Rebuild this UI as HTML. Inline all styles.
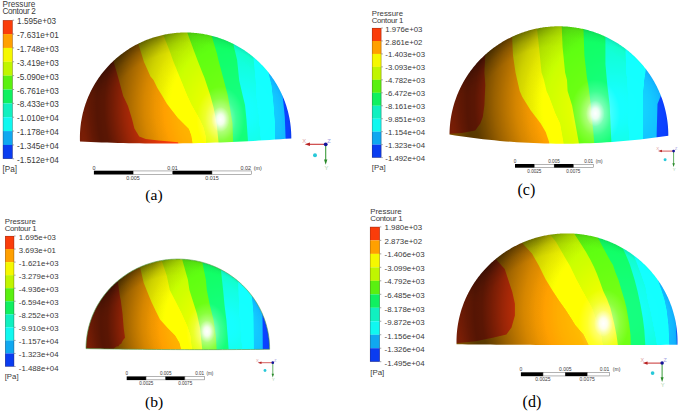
<!DOCTYPE html>
<html><head><meta charset="utf-8"><style>
html,body{margin:0;padding:0;background:#fff;}
svg{display:block;}
.lt{font-family:"Liberation Sans",sans-serif;font-size:8px;fill:#3a3a3a;}
.st{font-family:"Liberation Sans",sans-serif;font-size:5.5px;fill:#3a3a3a;}
.ax{font-family:"Liberation Sans",sans-serif;font-size:5px;}
.pl{font-family:"Liberation Serif",serif;font-size:15.5px;fill:#000;}
</style></head><body>
<svg width="685" height="411" viewBox="0 0 685 411">
<defs>
<mask id="cla" maskUnits="userSpaceOnUse" x="0" y="0" width="685" height="411"><path d="M291.30,138.36 L291.30,137.36 L291.29,136.37 L291.27,135.37 L291.24,134.38 L291.20,133.39 L291.16,132.40 L291.10,131.40 L291.03,130.41 L290.96,129.42 L290.87,128.43 L290.78,127.44 L290.67,126.45 L290.56,125.47 L290.44,124.48 L290.31,123.50 L290.17,122.51 L290.02,121.53 L289.86,120.55 L289.69,119.57 L289.51,118.59 L289.32,117.62 L289.13,116.64 L288.92,115.67 L288.71,114.70 L288.48,113.73 L288.25,112.77 L288.01,111.80 L287.76,110.84 L287.50,109.88 L287.23,108.92 L286.95,107.97 L286.66,107.02 L286.37,106.07 L286.06,105.12 L285.75,104.18 L285.42,103.24 L285.09,102.31 L284.75,101.37 L284.40,100.44 L284.04,99.51 L283.67,98.59 L283.30,97.67 L282.91,96.75 L282.52,95.84 L282.12,94.93 L281.71,94.03 L281.29,93.12 L280.86,92.23 L280.42,91.33 L279.98,90.44 L279.53,89.56 L279.07,88.68 L278.60,87.80 L278.12,86.93 L277.63,86.06 L277.14,85.20 L276.64,84.34 L276.13,83.49 L275.61,82.64 L275.08,81.80 L274.55,80.96 L274.00,80.12 L273.45,79.30 L272.90,78.47 L272.33,77.65 L271.76,76.84 L271.18,76.03 L270.59,75.23 L269.99,74.44 L269.39,73.65 L268.78,72.86 L268.16,72.08 L267.53,71.31 L266.90,70.54 L266.26,69.78 L265.61,69.03 L264.96,68.28 L264.29,67.53 L263.63,66.80 L262.95,66.07 L262.27,65.34 L261.58,64.63 L260.88,63.91 L260.18,63.21 L259.47,62.51 L258.75,61.82 L258.03,61.14 L257.30,60.46 L256.57,59.79 L255.83,59.13 L255.08,58.47 L254.32,57.82 L253.56,57.18 L252.80,56.54 L252.03,55.91 L251.25,55.29 L250.46,54.68 L249.67,54.07 L248.88,53.47 L248.08,52.88 L247.27,52.30 L246.46,51.72 L245.64,51.16 L244.82,50.60 L243.99,50.04 L243.16,49.50 L242.32,48.96 L241.48,48.43 L240.63,47.91 L239.77,47.40 L238.92,46.89 L238.05,46.39 L237.19,45.91 L236.31,45.42 L235.44,44.95 L234.56,44.49 L233.67,44.03 L232.78,43.58 L231.89,43.14 L230.99,42.71 L230.09,42.29 L229.18,41.88 L228.27,41.47 L227.36,41.07 L226.44,40.69 L225.52,40.31 L224.60,39.94 L223.67,39.57 L222.74,39.22 L221.80,38.88 L220.87,38.54 L219.92,38.21 L218.98,37.89 L218.03,37.58 L217.08,37.28 L216.13,36.99 L215.18,36.71 L214.22,36.44 L213.26,36.17 L212.29,35.92 L211.33,35.67 L210.36,35.43 L209.39,35.20 L208.42,34.99 L207.45,34.78 L206.47,34.58 L205.49,34.38 L204.51,34.20 L203.53,34.03 L202.55,33.86 L201.56,33.71 L200.58,33.56 L199.59,33.43 L198.60,33.30 L197.61,33.18 L196.62,33.07 L195.63,32.98 L194.64,32.89 L193.65,32.81 L192.65,32.73 L191.66,32.67 L190.66,32.62 L189.67,32.58 L188.67,32.54 L187.68,32.52 L186.68,32.51 L185.68,32.50 L184.69,32.50 L183.69,32.52 L182.69,32.54 L181.70,32.57 L180.70,32.61 L179.71,32.66 L178.71,32.72 L177.72,32.79 L176.73,32.87 L175.73,32.96 L174.74,33.06 L173.75,33.16 L172.76,33.28 L171.77,33.41 L170.79,33.54 L169.80,33.68 L168.81,33.84 L167.83,34.00 L166.85,34.17 L165.87,34.35 L164.89,34.54 L163.92,34.74 L162.94,34.95 L161.97,35.17 L161.00,35.39 L160.03,35.63 L159.07,35.88 L158.10,36.13 L157.14,36.39 L156.18,36.66 L155.23,36.95 L154.27,37.24 L153.32,37.53 L152.38,37.84 L151.43,38.16 L150.49,38.48 L149.55,38.82 L148.62,39.16 L147.69,39.51 L146.76,39.87 L145.83,40.24 L144.91,40.62 L143.99,41.01 L143.08,41.40 L142.17,41.81 L141.26,42.22 L140.36,42.64 L139.46,43.07 L138.57,43.51 L137.68,43.96 L136.79,44.41 L135.91,44.87 L135.03,45.34 L134.16,45.82 L133.29,46.31 L132.43,46.81 L131.57,47.31 L130.71,47.82 L129.86,48.34 L129.02,48.87 L128.18,49.41 L127.35,49.95 L126.52,50.50 L125.69,51.06 L124.88,51.63 L124.06,52.20 L123.26,52.79 L122.45,53.38 L121.66,53.97 L120.87,54.58 L120.08,55.19 L119.30,55.81 L118.53,56.44 L117.76,57.07 L117.00,57.71 L116.25,58.36 L115.50,59.02 L114.76,59.68 L114.02,60.35 L113.29,61.02 L112.57,61.71 L111.85,62.40 L111.14,63.09 L110.43,63.80 L109.74,64.51 L109.05,65.22 L108.36,65.95 L107.69,66.67 L107.02,67.41 L106.35,68.15 L105.70,68.90 L105.05,69.65 L104.41,70.41 L103.77,71.18 L103.15,71.95 L102.53,72.73 L101.91,73.52 L101.31,74.30 L100.71,75.10 L100.12,75.90 L99.54,76.71 L98.96,77.52 L98.40,78.34 L97.84,79.16 L97.29,79.99 L96.74,80.82 L96.21,81.66 L95.68,82.50 L95.16,83.35 L94.65,84.20 L94.14,85.06 L93.65,85.92 L93.16,86.79 L92.68,87.66 L92.21,88.53 L91.75,89.41 L91.29,90.30 L90.85,91.19 L90.41,92.08 L89.98,92.97 L89.56,93.88 L89.15,94.78 L88.75,95.69 L88.35,96.60 L87.97,97.52 L87.59,98.44 L87.22,99.36 L86.86,100.29 L86.51,101.22 L86.17,102.15 L85.83,103.09 L85.51,104.03 L85.19,104.97 L84.89,105.91 L84.59,106.86 L84.30,107.81 L84.02,108.77 L83.75,109.72 L83.49,110.68 L83.23,111.64 L82.99,112.61 L82.75,113.57 L82.53,114.54 L82.31,115.51 L82.11,116.48 L81.91,117.45 L81.72,118.43 L81.54,119.41 L81.37,120.39 L81.21,121.37 L81.06,122.35 L80.91,123.33 L80.78,124.32 L80.66,125.30 L80.54,126.29 L80.44,127.28 L80.34,128.27 L80.26,129.26 L80.18,130.25 L80.11,131.24 L80.05,132.23 L80.00,133.22 L79.96,134.22 L79.93,135.21 L79.91,136.20 L79.90,137.20 L79.90,138.19 L79.91,139.18 L79.92,140.18 L79.95,141.17 L79.96,141.50 L79.96,141.51 L85.38,141.76 L90.80,142.00 L96.22,142.22 L101.64,142.42 L107.06,142.60 L112.48,142.77 L117.89,142.91 L123.31,143.04 L128.73,143.16 L134.15,143.25 L139.57,143.33 L144.99,143.39 L150.41,143.44 L155.83,143.46 L161.25,143.47 L166.66,143.46 L172.08,143.43 L177.50,143.39 L182.92,143.33 L188.34,143.25 L193.76,143.15 L199.18,143.04 L204.60,142.91 L210.02,142.76 L215.43,142.59 L220.85,142.41 L226.27,142.20 L231.69,141.98 L237.11,141.75 L242.53,141.49 L247.95,141.22 L253.37,140.93 L258.79,140.62 L264.20,140.30 L269.62,139.96 L275.04,139.60 L280.46,139.22 L285.88,138.83 L291.30,138.42 Z" fill="#fff"/></mask>
<radialGradient id="mula" gradientUnits="userSpaceOnUse" cx="250.1" cy="106.3" r="179.7" gradientTransform="translate(250.1 106.3) scale(1 0.9972) translate(-250.1 -106.3)"><stop offset="0.000" stop-color="rgb(255,255,255)"/><stop offset="0.412" stop-color="rgb(255,255,255)"/><stop offset="0.471" stop-color="rgb(247,247,247)"/><stop offset="0.529" stop-color="rgb(235,235,235)"/><stop offset="0.588" stop-color="rgb(214,214,214)"/><stop offset="0.647" stop-color="rgb(184,184,184)"/><stop offset="0.706" stop-color="rgb(153,153,153)"/><stop offset="0.765" stop-color="rgb(117,117,117)"/><stop offset="0.812" stop-color="rgb(92,92,92)"/><stop offset="0.853" stop-color="rgb(87,87,87)"/><stop offset="0.894" stop-color="rgb(102,102,102)"/><stop offset="0.941" stop-color="rgb(128,128,128)"/><stop offset="1.000" stop-color="rgb(143,143,143)"/></radialGradient>
<radialGradient id="doda" gradientUnits="userSpaceOnUse" cx="238.4" cy="111.6" r="89.8" gradientTransform="translate(238.4 111.6) scale(1 0.9972) translate(-238.4 -111.6)"><stop offset="0.000" stop-color="rgb(66,66,66)"/><stop offset="0.176" stop-color="rgb(61,61,61)"/><stop offset="0.353" stop-color="rgb(48,48,48)"/><stop offset="0.529" stop-color="rgb(33,33,33)"/><stop offset="0.706" stop-color="rgb(18,18,18)"/><stop offset="0.882" stop-color="rgb(5,5,5)"/><stop offset="1.000" stop-color="rgb(0,0,0)"/></radialGradient>
<radialGradient id="limba" gradientUnits="userSpaceOnUse" cx="185.6" cy="137.9" r="105.7" gradientTransform="translate(185.6 137.9) scale(1 0.9972) translate(-185.6 -137.9)"><stop offset="0.000" stop-color="rgb(255,255,255)"/><stop offset="0.900" stop-color="rgb(255,255,255)"/><stop offset="0.970" stop-color="rgb(245,245,245)"/><stop offset="1.000" stop-color="rgb(230,230,230)"/></radialGradient>
<radialGradient id="limb2a" gradientUnits="userSpaceOnUse" cx="185.6" cy="137.9" r="105.7" gradientTransform="translate(185.6 137.9) scale(1 0.9972) translate(-185.6 -137.9)"><stop offset="0.000" stop-color="rgb(255,255,255)"/><stop offset="0.820" stop-color="rgb(255,255,255)"/><stop offset="0.920" stop-color="rgb(224,224,224)"/><stop offset="1.000" stop-color="rgb(184,184,184)"/></radialGradient>
<radialGradient id="lmga" gradientUnits="userSpaceOnUse" cx="127.5" cy="43.0" r="65.5" gradientTransform="translate(127.5 43.0) scale(1 0.9972) translate(-127.5 -43.0)"><stop offset="0" stop-color="#fff"/><stop offset="0.45" stop-color="#fff"/><stop offset="1" stop-color="#000"/></radialGradient>
<mask id="lma" maskUnits="userSpaceOnUse" x="0" y="0" width="685" height="411"><rect x="76.5" y="29" width="218.0" height="117.5" fill="url(#lmga)"/></mask>
<mask id="clb" maskUnits="userSpaceOnUse" x="0" y="0" width="685" height="411"><path d="M269.60,349.29 L269.60,348.44 L269.59,347.59 L269.57,346.75 L269.55,345.90 L269.52,345.06 L269.47,344.21 L269.43,343.37 L269.37,342.52 L269.30,341.68 L269.23,340.83 L269.15,339.99 L269.06,339.15 L268.96,338.31 L268.85,337.47 L268.74,336.63 L268.62,335.79 L268.49,334.95 L268.35,334.12 L268.20,333.28 L268.05,332.45 L267.88,331.62 L267.71,330.79 L267.54,329.96 L267.35,329.13 L267.15,328.31 L266.95,327.49 L266.74,326.66 L266.52,325.85 L266.30,325.03 L266.06,324.21 L265.82,323.40 L265.57,322.59 L265.31,321.78 L265.05,320.98 L264.78,320.17 L264.50,319.37 L264.21,318.57 L263.91,317.78 L263.61,316.99 L263.30,316.20 L262.98,315.41 L262.65,314.62 L262.32,313.84 L261.97,313.07 L261.63,312.29 L261.27,311.52 L260.90,310.75 L260.53,309.99 L260.15,309.23 L259.77,308.47 L259.38,307.71 L258.98,306.96 L258.57,306.22 L258.15,305.47 L257.73,304.74 L257.30,304.00 L256.86,303.27 L256.42,302.54 L255.97,301.82 L255.51,301.10 L255.05,300.39 L254.58,299.68 L254.10,298.97 L253.62,298.27 L253.13,297.57 L252.63,296.88 L252.12,296.19 L251.61,295.51 L251.09,294.83 L250.57,294.16 L250.04,293.49 L249.50,292.82 L248.96,292.17 L248.41,291.51 L247.85,290.86 L247.29,290.22 L246.72,289.58 L246.15,288.95 L245.57,288.32 L244.98,287.70 L244.39,287.08 L243.79,286.47 L243.18,285.86 L242.57,285.26 L241.96,284.67 L241.33,284.08 L240.71,283.50 L240.07,282.92 L239.43,282.35 L238.79,281.78 L238.14,281.23 L237.49,280.67 L236.83,280.12 L236.16,279.58 L235.49,279.05 L234.81,278.52 L234.13,278.00 L233.45,277.48 L232.76,276.97 L232.06,276.47 L231.36,275.97 L230.66,275.48 L229.95,274.99 L229.23,274.52 L228.51,274.05 L227.79,273.58 L227.06,273.12 L226.33,272.67 L225.59,272.23 L224.85,271.79 L224.11,271.36 L223.36,270.94 L222.60,270.52 L221.85,270.11 L221.08,269.71 L220.32,269.31 L219.55,268.92 L218.78,268.54 L218.00,268.17 L217.22,267.80 L216.44,267.44 L215.65,267.09 L214.86,266.74 L214.07,266.41 L213.27,266.07 L212.47,265.75 L211.67,265.44 L210.86,265.13 L210.05,264.83 L209.24,264.53 L208.43,264.25 L207.61,263.97 L206.79,263.70 L205.97,263.43 L205.14,263.18 L204.32,262.93 L203.49,262.69 L202.65,262.45 L201.82,262.23 L200.98,262.01 L200.15,261.80 L199.31,261.60 L198.46,261.40 L197.62,261.22 L196.77,261.04 L195.93,260.87 L195.08,260.70 L194.23,260.55 L193.37,260.40 L192.52,260.26 L191.67,260.13 L190.81,260.01 L189.95,259.89 L189.09,259.78 L188.23,259.68 L187.37,259.59 L186.51,259.51 L185.65,259.43 L184.79,259.36 L183.93,259.30 L183.06,259.25 L182.20,259.20 L181.33,259.17 L180.47,259.14 L179.60,259.12 L178.74,259.10 L177.87,259.10 L177.01,259.10 L176.14,259.11 L175.28,259.13 L174.41,259.16 L173.55,259.20 L172.68,259.24 L171.82,259.29 L170.96,259.35 L170.09,259.42 L169.23,259.49 L168.37,259.58 L167.51,259.67 L166.65,259.76 L165.79,259.87 L164.93,259.99 L164.08,260.11 L163.22,260.24 L162.37,260.38 L161.52,260.52 L160.66,260.68 L159.82,260.84 L158.97,261.01 L158.12,261.19 L157.28,261.37 L156.43,261.57 L155.59,261.77 L154.76,261.98 L153.92,262.19 L153.08,262.42 L152.25,262.65 L151.42,262.89 L150.59,263.13 L149.77,263.39 L148.95,263.65 L148.13,263.92 L147.31,264.20 L146.49,264.48 L145.68,264.78 L144.87,265.08 L144.07,265.38 L143.26,265.70 L142.46,266.02 L141.66,266.35 L140.87,266.69 L140.08,267.03 L139.29,267.38 L138.51,267.74 L137.73,268.11 L136.95,268.48 L136.18,268.86 L135.41,269.25 L134.64,269.64 L133.88,270.04 L133.12,270.45 L132.37,270.87 L131.62,271.29 L130.87,271.72 L130.13,272.16 L129.39,272.60 L128.66,273.05 L127.93,273.50 L127.21,273.97 L126.49,274.44 L125.77,274.91 L125.06,275.40 L124.36,275.89 L123.65,276.38 L122.96,276.89 L122.27,277.39 L121.58,277.91 L120.90,278.43 L120.22,278.96 L119.55,279.49 L118.88,280.03 L118.22,280.58 L117.57,281.13 L116.92,281.69 L116.27,282.26 L115.63,282.83 L115.00,283.40 L114.37,283.98 L113.75,284.57 L113.13,285.17 L112.52,285.76 L111.91,286.37 L111.31,286.98 L110.72,287.60 L110.13,288.22 L109.55,288.84 L108.97,289.48 L108.41,290.11 L107.84,290.76 L107.28,291.40 L106.73,292.06 L106.19,292.71 L105.65,293.38 L105.12,294.04 L104.59,294.72 L104.07,295.39 L103.56,296.08 L103.06,296.76 L102.56,297.46 L102.06,298.15 L101.58,298.85 L101.10,299.56 L100.63,300.27 L100.16,300.98 L99.70,301.70 L99.25,302.42 L98.81,303.15 L98.37,303.88 L97.94,304.61 L97.52,305.35 L97.10,306.09 L96.69,306.84 L96.29,307.59 L95.90,308.34 L95.51,309.10 L95.13,309.86 L94.76,310.62 L94.39,311.39 L94.03,312.16 L93.68,312.94 L93.34,313.71 L93.01,314.49 L92.68,315.28 L92.36,316.06 L92.04,316.85 L91.74,317.65 L91.44,318.44 L91.15,319.24 L90.87,320.04 L90.60,320.84 L90.33,321.65 L90.07,322.46 L89.82,323.27 L89.58,324.08 L89.34,324.89 L89.11,325.71 L88.89,326.53 L88.68,327.35 L88.48,328.17 L88.28,329.00 L88.10,329.82 L87.92,330.65 L87.74,331.48 L87.58,332.31 L87.42,333.14 L87.28,333.98 L87.14,334.81 L87.00,335.65 L86.88,336.49 L86.77,337.33 L86.66,338.17 L86.56,339.01 L86.47,339.85 L86.38,340.69 L86.31,341.54 L86.24,342.38 L86.18,343.22 L86.13,344.07 L86.09,344.92 L86.06,345.76 L86.03,346.61 L86.01,347.45 L86.00,348.30 L86.00,348.58 L86.00,348.60 L90.71,348.68 L95.42,348.76 L100.12,348.84 L104.83,348.91 L109.54,348.98 L114.25,349.05 L118.95,349.11 L123.66,349.17 L128.37,349.22 L133.08,349.27 L137.78,349.32 L142.49,349.37 L147.20,349.41 L151.91,349.45 L156.62,349.48 L161.32,349.52 L166.03,349.54 L170.74,349.57 L175.45,349.59 L180.15,349.61 L184.86,349.62 L189.57,349.63 L194.28,349.64 L198.98,349.65 L203.69,349.65 L208.40,349.64 L213.11,349.64 L217.81,349.63 L222.52,349.62 L227.23,349.60 L231.94,349.58 L236.65,349.56 L241.35,349.53 L246.06,349.50 L250.77,349.47 L255.48,349.43 L260.18,349.39 L264.89,349.35 L269.60,349.30 Z" fill="#fff"/></mask>
<radialGradient id="mulb" gradientUnits="userSpaceOnUse" cx="233.8" cy="322.0" r="156.1" gradientTransform="translate(233.8 322.0) scale(1 0.9782) translate(-233.8 -322.0)"><stop offset="0.000" stop-color="rgb(255,255,255)"/><stop offset="0.412" stop-color="rgb(255,255,255)"/><stop offset="0.471" stop-color="rgb(247,247,247)"/><stop offset="0.529" stop-color="rgb(235,235,235)"/><stop offset="0.588" stop-color="rgb(214,214,214)"/><stop offset="0.647" stop-color="rgb(184,184,184)"/><stop offset="0.706" stop-color="rgb(153,153,153)"/><stop offset="0.765" stop-color="rgb(117,117,117)"/><stop offset="0.812" stop-color="rgb(92,92,92)"/><stop offset="0.853" stop-color="rgb(87,87,87)"/><stop offset="0.894" stop-color="rgb(102,102,102)"/><stop offset="0.941" stop-color="rgb(128,128,128)"/><stop offset="1.000" stop-color="rgb(143,143,143)"/></radialGradient>
<radialGradient id="dodb" gradientUnits="userSpaceOnUse" cx="223.7" cy="326.4" r="78.0" gradientTransform="translate(223.7 326.4) scale(1 0.9782) translate(-223.7 -326.4)"><stop offset="0.000" stop-color="rgb(66,66,66)"/><stop offset="0.176" stop-color="rgb(61,61,61)"/><stop offset="0.353" stop-color="rgb(48,48,48)"/><stop offset="0.529" stop-color="rgb(33,33,33)"/><stop offset="0.706" stop-color="rgb(18,18,18)"/><stop offset="0.882" stop-color="rgb(5,5,5)"/><stop offset="1.000" stop-color="rgb(0,0,0)"/></radialGradient>
<radialGradient id="limbb" gradientUnits="userSpaceOnUse" cx="177.8" cy="348.9" r="91.8" gradientTransform="translate(177.8 348.9) scale(1 0.9782) translate(-177.8 -348.9)"><stop offset="0.000" stop-color="rgb(255,255,255)"/><stop offset="0.900" stop-color="rgb(255,255,255)"/><stop offset="0.970" stop-color="rgb(245,245,245)"/><stop offset="1.000" stop-color="rgb(230,230,230)"/></radialGradient>
<radialGradient id="limb2b" gradientUnits="userSpaceOnUse" cx="177.8" cy="348.9" r="91.8" gradientTransform="translate(177.8 348.9) scale(1 0.9782) translate(-177.8 -348.9)"><stop offset="0.000" stop-color="rgb(255,255,255)"/><stop offset="0.820" stop-color="rgb(255,255,255)"/><stop offset="0.920" stop-color="rgb(224,224,224)"/><stop offset="1.000" stop-color="rgb(184,184,184)"/></radialGradient>
<radialGradient id="lmgb" gradientUnits="userSpaceOnUse" cx="127.3" cy="268.1" r="56.9" gradientTransform="translate(127.3 268.1) scale(1 0.9782) translate(-127.3 -268.1)"><stop offset="0" stop-color="#fff"/><stop offset="0.45" stop-color="#fff"/><stop offset="1" stop-color="#000"/></radialGradient>
<mask id="lmb" maskUnits="userSpaceOnUse" x="0" y="0" width="685" height="411"><rect x="83.8" y="255.60000000000002" width="189.2" height="97.0" fill="url(#lmgb)"/></mask>
<mask id="clc" maskUnits="userSpaceOnUse" x="0" y="0" width="685" height="411"><path d="M668.30,135.57 L668.30,134.54 L668.29,133.52 L668.27,132.49 L668.24,131.47 L668.20,130.44 L668.15,129.42 L668.09,128.39 L668.02,127.37 L667.95,126.35 L667.86,125.33 L667.76,124.31 L667.65,123.29 L667.54,122.27 L667.41,121.25 L667.27,120.23 L667.13,119.22 L666.97,118.20 L666.81,117.19 L666.63,116.18 L666.45,115.17 L666.26,114.16 L666.05,113.16 L665.84,112.15 L665.62,111.15 L665.39,110.15 L665.14,109.16 L664.89,108.16 L664.63,107.17 L664.36,106.18 L664.08,105.19 L663.80,104.21 L663.50,103.22 L663.19,102.24 L662.88,101.27 L662.55,100.29 L662.22,99.32 L661.87,98.36 L661.52,97.39 L661.16,96.43 L660.79,95.48 L660.41,94.52 L660.02,93.57 L659.62,92.63 L659.21,91.68 L658.80,90.75 L658.37,89.81 L657.94,88.88 L657.50,87.95 L657.04,87.03 L656.58,86.11 L656.12,85.20 L655.64,84.29 L655.15,83.39 L654.66,82.49 L654.15,81.59 L653.64,80.70 L653.12,79.81 L652.60,78.93 L652.06,78.06 L651.51,77.19 L650.96,76.32 L650.40,75.46 L649.83,74.61 L649.25,73.76 L648.67,72.91 L648.07,72.07 L647.47,71.24 L646.86,70.41 L646.25,69.59 L645.62,68.77 L644.99,67.96 L644.35,67.16 L643.70,66.36 L643.04,65.57 L642.38,64.78 L641.71,64.00 L641.03,63.23 L640.35,62.46 L639.66,61.70 L638.96,60.95 L638.25,60.20 L637.54,59.46 L636.82,58.73 L636.09,58.00 L635.36,57.28 L634.61,56.57 L633.87,55.86 L633.11,55.16 L632.35,54.47 L631.58,53.78 L630.81,53.11 L630.03,52.44 L629.24,51.77 L628.45,51.12 L627.65,50.47 L626.85,49.83 L626.03,49.19 L625.22,48.57 L624.39,47.95 L623.56,47.34 L622.73,46.74 L621.89,46.14 L621.04,45.56 L620.19,44.98 L619.34,44.41 L618.47,43.85 L617.61,43.29 L616.73,42.74 L615.85,42.21 L614.97,41.68 L614.08,41.16 L613.19,40.64 L612.29,40.14 L611.39,39.64 L610.48,39.15 L609.57,38.67 L608.65,38.20 L607.73,37.74 L606.81,37.29 L605.88,36.84 L604.95,36.41 L604.01,35.98 L603.07,35.56 L602.12,35.15 L601.17,34.75 L600.22,34.36 L599.26,33.98 L598.30,33.60 L597.34,33.24 L596.37,32.88 L595.40,32.53 L594.43,32.20 L593.45,31.87 L592.47,31.55 L591.49,31.24 L590.50,30.94 L589.51,30.65 L588.52,30.36 L587.53,30.09 L586.53,29.83 L585.53,29.57 L584.53,29.33 L583.52,29.09 L582.52,28.87 L581.51,28.65 L580.50,28.44 L579.49,28.24 L578.48,28.06 L577.46,27.88 L576.44,27.71 L575.42,27.55 L574.40,27.40 L573.38,27.26 L572.36,27.13 L571.33,27.01 L570.31,26.89 L569.28,26.79 L568.26,26.70 L567.23,26.62 L566.20,26.54 L565.17,26.48 L564.14,26.42 L563.11,26.38 L562.08,26.35 L561.05,26.32 L560.02,26.31 L558.99,26.30 L557.95,26.30 L556.92,26.32 L555.89,26.34 L554.86,26.37 L553.83,26.42 L552.80,26.47 L551.77,26.53 L550.74,26.60 L549.71,26.68 L548.69,26.78 L547.66,26.88 L546.64,26.99 L545.61,27.11 L544.59,27.23 L543.57,27.37 L542.55,27.52 L541.53,27.68 L540.51,27.85 L539.49,28.03 L538.48,28.21 L537.47,28.41 L536.46,28.61 L535.45,28.83 L534.44,29.05 L533.44,29.29 L532.44,29.53 L531.44,29.78 L530.44,30.05 L529.45,30.32 L528.45,30.60 L527.46,30.89 L526.48,31.19 L525.49,31.50 L524.51,31.81 L523.54,32.14 L522.56,32.48 L521.59,32.82 L520.62,33.18 L519.66,33.54 L518.70,33.91 L517.74,34.29 L516.79,34.68 L515.84,35.08 L514.89,35.49 L513.95,35.91 L513.01,36.33 L512.08,36.77 L511.15,37.21 L510.22,37.66 L509.30,38.13 L508.38,38.59 L507.47,39.07 L506.56,39.56 L505.66,40.05 L504.76,40.56 L503.87,41.07 L502.98,41.59 L502.09,42.12 L501.21,42.65 L500.34,43.20 L499.47,43.75 L498.61,44.31 L497.75,44.88 L496.90,45.46 L496.05,46.05 L495.21,46.64 L494.37,47.24 L493.54,47.85 L492.72,48.47 L491.90,49.09 L491.09,49.72 L490.28,50.36 L489.48,51.01 L488.69,51.66 L487.90,52.32 L487.12,52.99 L486.34,53.67 L485.58,54.35 L484.81,55.05 L484.06,55.74 L483.31,56.45 L482.57,57.16 L481.83,57.88 L481.10,58.61 L480.38,59.34 L479.67,60.08 L478.96,60.82 L478.26,61.58 L477.57,62.34 L476.88,63.10 L476.20,63.87 L475.53,64.65 L474.87,65.44 L474.21,66.23 L473.56,67.03 L472.92,67.83 L472.28,68.64 L471.66,69.45 L471.04,70.27 L470.43,71.10 L469.83,71.93 L469.23,72.77 L468.64,73.61 L468.07,74.46 L467.50,75.32 L466.93,76.18 L466.38,77.04 L465.83,77.91 L465.29,78.79 L464.76,79.67 L464.24,80.55 L463.73,81.44 L463.23,82.34 L462.73,83.24 L462.24,84.14 L461.76,85.05 L461.29,85.96 L460.83,86.88 L460.38,87.80 L459.94,88.73 L459.50,89.66 L459.07,90.59 L458.66,91.53 L458.25,92.47 L457.85,93.41 L457.46,94.36 L457.08,95.32 L456.70,96.27 L456.34,97.23 L455.99,98.20 L455.64,99.16 L455.30,100.13 L454.98,101.11 L454.66,102.08 L454.35,103.06 L454.05,104.04 L453.76,105.03 L453.48,106.01 L453.21,107.00 L452.95,107.99 L452.70,108.99 L452.45,109.99 L452.22,110.98 L452.00,111.99 L451.78,112.99 L451.58,113.99 L451.38,115.00 L451.20,116.01 L451.02,117.02 L450.85,118.03 L450.70,119.05 L450.55,120.06 L450.41,121.08 L450.28,122.10 L450.17,123.12 L450.06,124.14 L449.96,125.16 L449.87,126.18 L449.79,127.20 L449.72,128.22 L449.66,129.25 L449.61,130.27 L449.57,131.30 L449.54,132.32 L449.51,133.35 L449.50,134.37 L449.50,134.37 L449.50,134.54 L455.11,135.43 L460.72,136.27 L466.33,137.07 L471.94,137.82 L477.55,138.52 L483.16,139.19 L488.77,139.80 L494.38,140.37 L499.99,140.90 L505.60,141.38 L511.21,141.81 L516.82,142.20 L522.43,142.55 L528.04,142.85 L533.65,143.10 L539.27,143.32 L544.88,143.48 L550.49,143.60 L556.10,143.67 L561.71,143.70 L567.32,143.69 L572.93,143.63 L578.54,143.52 L584.15,143.37 L589.76,143.18 L595.37,142.94 L600.98,142.65 L606.59,142.32 L612.20,141.94 L617.81,141.52 L623.42,141.06 L629.03,140.54 L634.64,139.99 L640.25,139.39 L645.86,138.74 L651.47,138.05 L657.08,137.31 L662.69,136.53 L668.30,135.70 Z" fill="#fff"/></mask>
<radialGradient id="mulc" gradientUnits="userSpaceOnUse" cx="625.6" cy="102.5" r="186.0" gradientTransform="translate(625.6 102.5) scale(1 0.9945) translate(-625.6 -102.5)"><stop offset="0.000" stop-color="rgb(255,255,255)"/><stop offset="0.412" stop-color="rgb(255,255,255)"/><stop offset="0.471" stop-color="rgb(247,247,247)"/><stop offset="0.529" stop-color="rgb(235,235,235)"/><stop offset="0.588" stop-color="rgb(214,214,214)"/><stop offset="0.647" stop-color="rgb(184,184,184)"/><stop offset="0.706" stop-color="rgb(153,153,153)"/><stop offset="0.765" stop-color="rgb(117,117,117)"/><stop offset="0.812" stop-color="rgb(92,92,92)"/><stop offset="0.853" stop-color="rgb(87,87,87)"/><stop offset="0.894" stop-color="rgb(102,102,102)"/><stop offset="0.941" stop-color="rgb(128,128,128)"/><stop offset="1.000" stop-color="rgb(143,143,143)"/></radialGradient>
<radialGradient id="dodc" gradientUnits="userSpaceOnUse" cx="613.6" cy="107.9" r="93.0" gradientTransform="translate(613.6 107.9) scale(1 0.9945) translate(-613.6 -107.9)"><stop offset="0.000" stop-color="rgb(66,66,66)"/><stop offset="0.176" stop-color="rgb(61,61,61)"/><stop offset="0.353" stop-color="rgb(48,48,48)"/><stop offset="0.529" stop-color="rgb(33,33,33)"/><stop offset="0.706" stop-color="rgb(18,18,18)"/><stop offset="0.882" stop-color="rgb(5,5,5)"/><stop offset="1.000" stop-color="rgb(0,0,0)"/></radialGradient>
<radialGradient id="limbc" gradientUnits="userSpaceOnUse" cx="558.9" cy="135.1" r="109.4" gradientTransform="translate(558.9 135.1) scale(1 0.9945) translate(-558.9 -135.1)"><stop offset="0.000" stop-color="rgb(255,255,255)"/><stop offset="0.900" stop-color="rgb(255,255,255)"/><stop offset="0.970" stop-color="rgb(245,245,245)"/><stop offset="1.000" stop-color="rgb(230,230,230)"/></radialGradient>
<radialGradient id="limb2c" gradientUnits="userSpaceOnUse" cx="558.9" cy="135.1" r="109.4" gradientTransform="translate(558.9 135.1) scale(1 0.9945) translate(-558.9 -135.1)"><stop offset="0.000" stop-color="rgb(255,255,255)"/><stop offset="0.820" stop-color="rgb(255,255,255)"/><stop offset="0.920" stop-color="rgb(224,224,224)"/><stop offset="1.000" stop-color="rgb(184,184,184)"/></radialGradient>
<radialGradient id="lmgc" gradientUnits="userSpaceOnUse" cx="498.7" cy="37.2" r="67.8" gradientTransform="translate(498.7 37.2) scale(1 0.9945) translate(-498.7 -37.2)"><stop offset="0" stop-color="#fff"/><stop offset="0.45" stop-color="#fff"/><stop offset="1" stop-color="#000"/></radialGradient>
<mask id="lmc" maskUnits="userSpaceOnUse" x="0" y="0" width="685" height="411"><rect x="447" y="22.4" width="224.60000000000002" height="124.79999999999998" fill="url(#lmgc)"/></mask>
<mask id="cld" maskUnits="userSpaceOnUse" x="0" y="0" width="685" height="411"><path d="M677.46,344.72 L677.48,343.70 L677.50,342.68 L677.50,341.66 L677.49,340.64 L677.48,339.62 L677.45,338.60 L677.42,337.57 L677.38,336.55 L677.32,335.54 L677.26,334.52 L677.18,333.50 L677.10,332.48 L677.01,331.46 L676.90,330.45 L676.79,329.43 L676.67,328.42 L676.53,327.41 L676.39,326.39 L676.24,325.38 L676.08,324.38 L675.91,323.37 L675.72,322.36 L675.53,321.36 L675.33,320.36 L675.12,319.36 L674.90,318.36 L674.67,317.36 L674.44,316.37 L674.19,315.38 L673.93,314.39 L673.66,313.40 L673.38,312.42 L673.10,311.44 L672.80,310.46 L672.50,309.48 L672.18,308.51 L671.86,307.54 L671.53,306.57 L671.18,305.61 L670.83,304.65 L670.47,303.69 L670.10,302.73 L669.72,301.78 L669.33,300.84 L668.93,299.89 L668.53,298.95 L668.11,298.02 L667.69,297.08 L667.25,296.16 L666.81,295.23 L666.36,294.31 L665.90,293.40 L665.43,292.48 L664.95,291.58 L664.47,290.67 L663.97,289.78 L663.47,288.88 L662.96,287.99 L662.43,287.11 L661.90,286.23 L661.37,285.35 L660.82,284.49 L660.27,283.62 L659.70,282.76 L659.13,281.91 L658.55,281.06 L657.97,280.22 L657.37,279.38 L656.77,278.55 L656.16,277.72 L655.54,276.90 L654.91,276.08 L654.27,275.27 L653.63,274.47 L652.98,273.67 L652.32,272.88 L651.66,272.10 L650.98,271.32 L650.30,270.55 L649.62,269.78 L648.92,269.02 L648.22,268.26 L647.51,267.52 L646.79,266.78 L646.07,266.04 L645.33,265.32 L644.60,264.60 L643.85,263.88 L643.10,263.18 L642.34,262.48 L641.58,261.78 L640.80,261.10 L640.02,260.42 L639.24,259.75 L638.45,259.08 L637.65,258.43 L636.85,257.78 L636.04,257.14 L635.22,256.50 L634.40,255.88 L633.57,255.26 L632.73,254.65 L631.89,254.04 L631.05,253.45 L630.20,252.86 L629.34,252.28 L628.48,251.71 L627.61,251.14 L626.73,250.59 L625.86,250.04 L624.97,249.50 L624.08,248.97 L623.19,248.45 L622.29,247.93 L621.38,247.42 L620.47,246.93 L619.56,246.44 L618.64,245.95 L617.72,245.48 L616.79,245.02 L615.86,244.56 L614.92,244.11 L613.98,243.68 L613.04,243.25 L612.09,242.83 L611.13,242.41 L610.18,242.01 L609.22,241.62 L608.25,241.23 L607.28,240.85 L606.31,240.49 L605.34,240.13 L604.36,239.78 L603.38,239.44 L602.39,239.10 L601.40,238.78 L600.41,238.47 L599.42,238.17 L598.42,237.87 L597.42,237.58 L596.42,237.31 L595.41,237.04 L594.40,236.78 L593.39,236.53 L592.38,236.30 L591.36,236.07 L590.35,235.85 L589.33,235.63 L588.31,235.43 L587.28,235.24 L586.26,235.06 L585.23,234.88 L584.20,234.72 L583.17,234.57 L582.14,234.42 L581.11,234.29 L580.08,234.16 L579.04,234.05 L578.01,233.94 L576.97,233.84 L575.93,233.75 L574.89,233.68 L573.85,233.61 L572.81,233.55 L571.77,233.50 L570.73,233.46 L569.69,233.43 L568.65,233.41 L567.61,233.40 L566.57,233.40 L565.52,233.41 L564.48,233.43 L563.44,233.46 L562.40,233.49 L561.36,233.54 L560.32,233.60 L559.28,233.66 L558.24,233.74 L557.20,233.83 L556.17,233.92 L555.13,234.03 L554.10,234.14 L553.06,234.27 L552.03,234.40 L551.00,234.54 L549.97,234.69 L548.94,234.86 L547.91,235.03 L546.89,235.21 L545.86,235.40 L544.84,235.60 L543.82,235.81 L542.80,236.03 L541.79,236.26 L540.78,236.49 L539.77,236.74 L538.76,237.00 L537.75,237.26 L536.75,237.54 L535.75,237.82 L534.75,238.12 L533.75,238.42 L532.76,238.73 L531.77,239.05 L530.79,239.38 L529.81,239.72 L528.83,240.07 L527.85,240.42 L526.88,240.79 L525.91,241.17 L524.94,241.55 L523.98,241.94 L523.03,242.35 L522.07,242.76 L521.12,243.18 L520.18,243.60 L519.23,244.04 L518.30,244.49 L517.36,244.94 L516.44,245.40 L515.51,245.88 L514.59,246.36 L513.68,246.84 L512.77,247.34 L511.86,247.85 L510.96,248.36 L510.07,248.88 L509.18,249.41 L508.29,249.95 L507.41,250.50 L506.54,251.05 L505.67,251.61 L504.80,252.18 L503.95,252.76 L503.09,253.35 L502.25,253.94 L501.41,254.55 L500.57,255.16 L499.74,255.77 L498.92,256.40 L498.10,257.03 L497.29,257.67 L496.48,258.32 L495.68,258.97 L494.89,259.64 L494.11,260.31 L493.33,260.98 L492.55,261.67 L491.79,262.36 L491.03,263.06 L490.27,263.76 L489.53,264.48 L488.79,265.20 L488.06,265.92 L487.33,266.65 L486.61,267.39 L485.90,268.14 L485.20,268.89 L484.50,269.65 L483.81,270.42 L483.13,271.19 L482.45,271.97 L481.79,272.75 L481.13,273.54 L480.48,274.34 L479.83,275.14 L479.20,275.95 L478.57,276.76 L477.95,277.58 L477.33,278.41 L476.73,279.24 L476.13,280.08 L475.54,280.92 L474.96,281.77 L474.39,282.62 L473.83,283.48 L473.27,284.34 L472.72,285.21 L472.18,286.08 L471.65,286.96 L471.13,287.84 L470.62,288.73 L470.11,289.63 L469.62,290.52 L469.13,291.43 L468.65,292.33 L468.18,293.24 L467.72,294.16 L467.26,295.08 L466.82,296.00 L466.38,296.93 L465.96,297.86 L465.54,298.80 L465.13,299.74 L464.73,300.68 L464.34,301.62 L463.96,302.58 L463.59,303.53 L463.23,304.49 L462.88,305.45 L462.53,306.41 L462.20,307.38 L461.87,308.35 L461.55,309.32 L461.25,310.30 L460.95,311.27 L460.66,312.25 L460.38,313.24 L460.12,314.23 L459.86,315.21 L459.61,316.20 L459.37,317.20 L459.13,318.19 L458.91,319.19 L458.70,320.19 L458.50,321.19 L458.31,322.20 L458.12,323.20 L457.95,324.21 L457.79,325.22 L457.63,326.23 L457.49,327.24 L457.36,328.25 L457.23,329.26 L457.12,330.28 L457.01,331.29 L456.92,332.31 L456.83,333.33 L456.76,334.35 L456.69,335.37 L456.63,336.38 L456.59,337.40 L456.55,338.42 L456.52,339.45 L456.51,340.47 L456.50,341.49 L456.50,342.51 L456.52,343.53 L456.53,344.21 L456.53,344.30 L462.19,344.36 L467.86,344.41 L473.52,344.47 L479.19,344.52 L484.85,344.57 L490.52,344.61 L496.18,344.66 L501.85,344.70 L507.51,344.74 L513.18,344.77 L518.84,344.81 L524.51,344.84 L530.17,344.87 L535.84,344.89 L541.50,344.92 L547.17,344.94 L552.83,344.96 L558.50,344.98 L564.16,344.99 L569.83,345.01 L575.49,345.02 L581.16,345.02 L586.82,345.03 L592.48,345.03 L598.15,345.03 L603.81,345.03 L609.48,345.03 L615.14,345.02 L620.81,345.01 L626.47,345.00 L632.14,344.99 L637.80,344.98 L643.47,344.96 L649.13,344.94 L654.80,344.91 L660.46,344.89 L666.13,344.86 L671.79,344.83 L677.46,344.80 Z" fill="#fff"/></mask>
<radialGradient id="muld" gradientUnits="userSpaceOnUse" cx="634.4" cy="309.2" r="187.8" gradientTransform="translate(634.4 309.2) scale(1 0.9801) translate(-634.4 -309.2)"><stop offset="0.000" stop-color="rgb(255,255,255)"/><stop offset="0.412" stop-color="rgb(255,255,255)"/><stop offset="0.471" stop-color="rgb(247,247,247)"/><stop offset="0.529" stop-color="rgb(235,235,235)"/><stop offset="0.588" stop-color="rgb(214,214,214)"/><stop offset="0.647" stop-color="rgb(184,184,184)"/><stop offset="0.706" stop-color="rgb(153,153,153)"/><stop offset="0.765" stop-color="rgb(117,117,117)"/><stop offset="0.812" stop-color="rgb(92,92,92)"/><stop offset="0.853" stop-color="rgb(87,87,87)"/><stop offset="0.894" stop-color="rgb(102,102,102)"/><stop offset="0.941" stop-color="rgb(128,128,128)"/><stop offset="1.000" stop-color="rgb(143,143,143)"/></radialGradient>
<radialGradient id="dodd" gradientUnits="userSpaceOnUse" cx="622.2" cy="314.6" r="93.9" gradientTransform="translate(622.2 314.6) scale(1 0.9801) translate(-622.2 -314.6)"><stop offset="0.000" stop-color="rgb(66,66,66)"/><stop offset="0.176" stop-color="rgb(61,61,61)"/><stop offset="0.353" stop-color="rgb(48,48,48)"/><stop offset="0.529" stop-color="rgb(33,33,33)"/><stop offset="0.706" stop-color="rgb(18,18,18)"/><stop offset="0.882" stop-color="rgb(5,5,5)"/><stop offset="1.000" stop-color="rgb(0,0,0)"/></radialGradient>
<radialGradient id="limbd" gradientUnits="userSpaceOnUse" cx="567.0" cy="341.7" r="110.5" gradientTransform="translate(567.0 341.7) scale(1 0.9801) translate(-567.0 -341.7)"><stop offset="0.000" stop-color="rgb(255,255,255)"/><stop offset="0.900" stop-color="rgb(255,255,255)"/><stop offset="0.970" stop-color="rgb(245,245,245)"/><stop offset="1.000" stop-color="rgb(230,230,230)"/></radialGradient>
<radialGradient id="limb2d" gradientUnits="userSpaceOnUse" cx="567.0" cy="341.7" r="110.5" gradientTransform="translate(567.0 341.7) scale(1 0.9801) translate(-567.0 -341.7)"><stop offset="0.000" stop-color="rgb(255,255,255)"/><stop offset="0.820" stop-color="rgb(255,255,255)"/><stop offset="0.920" stop-color="rgb(224,224,224)"/><stop offset="1.000" stop-color="rgb(184,184,184)"/></radialGradient>
<radialGradient id="lmgd" gradientUnits="userSpaceOnUse" cx="506.2" cy="244.2" r="68.5" gradientTransform="translate(506.2 244.2) scale(1 0.9801) translate(-506.2 -244.2)"><stop offset="0" stop-color="#fff"/><stop offset="0.45" stop-color="#fff"/><stop offset="1" stop-color="#000"/></radialGradient>
<mask id="lmd" maskUnits="userSpaceOnUse" x="0" y="0" width="685" height="411"><rect x="453.8" y="229.6" width="226.90000000000003" height="118.70000000000002" fill="url(#lmgd)"/></mask>
<linearGradient id="shh" x1="0" y1="0" x2="1" y2="0">
<stop offset="0" stop-color="#000" stop-opacity="0.5"/>
<stop offset="0.1" stop-color="#000" stop-opacity="0.65"/>
<stop offset="0.2" stop-color="#000" stop-opacity="0.45"/>
<stop offset="0.3" stop-color="#000" stop-opacity="0.28"/>
<stop offset="0.4" stop-color="#000" stop-opacity="0.1"/>
<stop offset="0.5" stop-color="#000" stop-opacity="0.0"/>
<stop offset="1" stop-color="#000" stop-opacity="0"/>
</linearGradient>
<radialGradient id="hlg">
<stop offset="0" stop-color="#fff" stop-opacity="1"/>
<stop offset="0.4" stop-color="#fff" stop-opacity="0.8"/>
<stop offset="0.7" stop-color="#fff" stop-opacity="0.35"/>
<stop offset="1" stop-color="#fff" stop-opacity="0"/>
</radialGradient>
<radialGradient id="glg">
<stop offset="0" stop-color="#fff" stop-opacity="0.62"/>
<stop offset="0.35" stop-color="#fff" stop-opacity="0.45"/>
<stop offset="0.65" stop-color="#fff" stop-opacity="0.17"/>
<stop offset="1" stop-color="#fff" stop-opacity="0"/>
</radialGradient>
</defs>
<rect width="685" height="411" fill="#fff"/>
<g mask="url(#cla)">
<rect x="74.5" y="27" width="222.0" height="121.5" fill="#0a3cf0"/>
<polygon points="282.0,12.0 282.0,90.0 283.1,100.0 284.8,116.8 285.6,138.0 285.7,150.0 285.7,163.5 59.5,163.5 59.5,12.0" fill="#10a8f0"/>
<polygon points="268.0,12.0 268.0,66.0 268.8,74.3 271.4,85.5 273.0,101.0 274.7,122.4 275.0,139.2 275.0,150.0 275.0,163.5 59.5,163.5 59.5,12.0" fill="#10f8f0"/>
<polygon points="253.0,12.0 253.0,50.0 253.3,56.5 255.7,78.2 257.1,102.0 259.0,115.0 261.0,140.0 261.2,150.0 261.2,163.5 59.5,163.5 59.5,12.0" fill="#10f0c0"/>
<polygon points="232.0,12.0 232.0,38.0 233.2,43.7 237.1,60.0 239.2,80.4 242.8,96.0 245.0,105.0 246.5,120.0 247.9,140.3 248.0,150.0 248.0,163.5 59.5,163.5 59.5,12.0" fill="#10f060"/>
<polygon points="210.0,12.0 210.0,28.0 211.5,35.6 217.1,54.1 218.4,60.0 223.1,77.5 227.7,95.0 230.0,108.0 232.5,123.4 233.1,142.0 233.2,150.0 233.2,163.5 59.5,163.5 59.5,12.0" fill="#5af010"/>
<polygon points="186.0,12.0 186.0,26.0 187.4,32.9 194.6,52.5 197.4,60.0 202.7,73.4 204.4,77.5 210.2,95.0 213.7,108.0 216.7,123.4 218.5,142.0 219.0,150.0 219.0,163.5 59.5,163.5 59.5,12.0" fill="#c0f500"/>
<polygon points="161.0,12.0 161.0,28.0 163.3,35.1 169.7,50.9 172.8,60.0 179.9,77.5 186.9,95.0 191.5,105.0 196.0,113.0 200.0,120.0 203.5,128.0 205.5,136.0 206.5,150.0 206.5,163.5 59.5,163.5 59.5,12.0" fill="#f5f800"/>
<polygon points="135.0,12.0 135.0,36.0 138.4,44.1 144.0,62.1 150.5,76.6 153.5,80.0 157.4,87.9 162.2,95.8 166.9,103.7 171.7,110.1 178.0,118.0 184.3,124.3 189.1,129.1 191.4,135.4 192.5,142.0 193.0,150.0 193.0,163.5 59.5,163.5 59.5,12.0" fill="#ffa000"/>
<polygon points="110.0,12.0 110.0,50.0 113.5,61.3 118.4,78.2 123.2,96.0 128.0,106.0 132.0,118.9 134.4,128.5 139.2,136.6 145.7,139.0 158.5,140.6 178.0,142.3 180.0,150.0 180.0,163.5 59.5,163.5 59.5,12.0" fill="#fa3c0a"/>
<rect x="77.5" y="30" width="216.0" height="115.5" fill="url(#mula)" style="mix-blend-mode:multiply"/>
<rect x="77.5" y="30" width="216.0" height="115.5" fill="url(#limba)" style="mix-blend-mode:multiply"/>
<rect x="77.5" y="30" width="216.0" height="115.5" fill="url(#limb2a)" mask="url(#lma)" style="mix-blend-mode:multiply"/>
<rect x="77.5" y="30" width="216.0" height="115.5" fill="url(#doda)" style="mix-blend-mode:color-dodge"/>
<ellipse cx="220.5" cy="119.5" rx="24.0" ry="33.0" fill="url(#glg)"/>
<ellipse cx="220.5" cy="119.5" rx="9.0" ry="12.5" fill="url(#hlg)"/>
</g>
<g mask="url(#clb)">
<rect x="81.8" y="253.60000000000002" width="193.2" height="101.0" fill="#0a3cf0"/>
<polygon points="262.0,238.6 262.0,308.0 262.5,314.3 262.8,349.5 262.8,360.0 262.8,369.6 66.8,369.6 66.8,238.6" fill="#10a8f0"/>
<polygon points="251.5,238.6 251.5,290.0 251.8,295.6 253.2,313.0 253.6,349.5 253.6,360.0 253.6,369.6 66.8,369.6 66.8,238.6" fill="#10f8f0"/>
<polygon points="237.5,238.6 237.5,276.0 238.1,282.0 238.9,297.0 239.6,313.0 242.4,349.5 242.5,360.0 242.5,369.6 66.8,369.6 66.8,238.6" fill="#10f0c0"/>
<polygon points="220.5,238.6 220.5,264.0 220.9,269.8 223.1,289.9 224.5,305.0 226.4,320.2 228.6,348.8 228.8,360.0 228.8,369.6 66.8,369.6 66.8,238.6" fill="#10f060"/>
<polygon points="201.5,238.6 201.5,256.0 202.3,262.3 205.9,279.8 206.8,290.0 209.8,305.1 213.6,320.2 215.8,335.3 216.6,348.8 216.8,360.0 216.8,369.6 66.8,369.6 66.8,238.6" fill="#5af010"/>
<polygon points="181.5,238.6 181.5,254.0 182.2,259.5 187.9,279.8 189.4,290.0 193.2,302.1 197.0,314.1 200.0,327.7 202.2,348.8 202.5,360.0 202.5,369.6 66.8,369.6 66.8,238.6" fill="#c0f500"/>
<polygon points="160.5,238.6 160.5,254.0 161.6,260.5 166.7,275.5 169.8,290.0 175.1,300.6 181.1,312.6 187.2,326.2 190.2,335.3 191.7,348.8 192.0,360.0 192.0,369.6 66.8,369.6 66.8,238.6" fill="#f5f800"/>
<polygon points="138.5,238.6 138.5,258.0 140.1,267.2 143.7,282.7 149.4,297.0 151.5,302.0 156.0,311.5 160.0,319.4 167.5,327.7 175.1,335.3 179.6,342.8 181.1,348.8 181.3,360.0 181.3,369.6 66.8,369.6 66.8,238.6" fill="#ffa000"/>
<polygon points="115.0,238.6 115.0,270.0 117.9,282.0 120.0,297.0 120.7,300.0 122.5,313.5 123.7,328.0 125.0,337.7 123.5,339.5 122.5,341.0 121.2,343.8 119.5,344.5 118.5,346.2 116.5,346.6 114.0,348.2 112.0,360.0 112.0,369.6 66.8,369.6 66.8,238.6" fill="#fa3c0a"/>
<rect x="84.8" y="256.6" width="187.2" height="95.0" fill="url(#mulb)" style="mix-blend-mode:multiply"/>
<rect x="84.8" y="256.6" width="187.2" height="95.0" fill="url(#limbb)" style="mix-blend-mode:multiply"/>
<rect x="84.8" y="256.6" width="187.2" height="95.0" fill="url(#limb2b)" mask="url(#lmb)" style="mix-blend-mode:multiply"/>
<rect x="84.8" y="256.6" width="187.2" height="95.0" fill="url(#dodb)" style="mix-blend-mode:color-dodge"/>
<ellipse cx="207" cy="331.5" rx="20.8" ry="28.7" fill="url(#glg)"/>
<ellipse cx="207" cy="331.5" rx="7.8" ry="10.9" fill="url(#hlg)"/>
</g>
<path d="M269.60,349.29 L269.60,348.44 L269.59,347.59 L269.57,346.75 L269.55,345.90 L269.52,345.06 L269.47,344.21 L269.43,343.37 L269.37,342.52 L269.30,341.68 L269.23,340.83 L269.15,339.99 L269.06,339.15 L268.96,338.31 L268.85,337.47 L268.74,336.63 L268.62,335.79 L268.49,334.95 L268.35,334.12 L268.20,333.28 L268.05,332.45 L267.88,331.62 L267.71,330.79 L267.54,329.96 L267.35,329.13 L267.15,328.31 L266.95,327.49 L266.74,326.66 L266.52,325.85 L266.30,325.03 L266.06,324.21 L265.82,323.40 L265.57,322.59 L265.31,321.78 L265.05,320.98 L264.78,320.17 L264.50,319.37 L264.21,318.57 L263.91,317.78 L263.61,316.99 L263.30,316.20 L262.98,315.41 L262.65,314.62 L262.32,313.84 L261.97,313.07 L261.63,312.29 L261.27,311.52 L260.90,310.75 L260.53,309.99 L260.15,309.23 L259.77,308.47 L259.38,307.71 L258.98,306.96 L258.57,306.22 L258.15,305.47 L257.73,304.74 L257.30,304.00 L256.86,303.27 L256.42,302.54 L255.97,301.82 L255.51,301.10 L255.05,300.39 L254.58,299.68 L254.10,298.97 L253.62,298.27 L253.13,297.57 L252.63,296.88 L252.12,296.19 L251.61,295.51 L251.09,294.83 L250.57,294.16 L250.04,293.49 L249.50,292.82 L248.96,292.17 L248.41,291.51 L247.85,290.86 L247.29,290.22 L246.72,289.58 L246.15,288.95 L245.57,288.32 L244.98,287.70 L244.39,287.08 L243.79,286.47 L243.18,285.86 L242.57,285.26 L241.96,284.67 L241.33,284.08 L240.71,283.50 L240.07,282.92 L239.43,282.35 L238.79,281.78 L238.14,281.23 L237.49,280.67 L236.83,280.12 L236.16,279.58 L235.49,279.05 L234.81,278.52 L234.13,278.00 L233.45,277.48 L232.76,276.97 L232.06,276.47 L231.36,275.97 L230.66,275.48 L229.95,274.99 L229.23,274.52 L228.51,274.05 L227.79,273.58 L227.06,273.12 L226.33,272.67 L225.59,272.23 L224.85,271.79 L224.11,271.36 L223.36,270.94 L222.60,270.52 L221.85,270.11 L221.08,269.71 L220.32,269.31 L219.55,268.92 L218.78,268.54 L218.00,268.17 L217.22,267.80 L216.44,267.44 L215.65,267.09 L214.86,266.74 L214.07,266.41 L213.27,266.07 L212.47,265.75 L211.67,265.44 L210.86,265.13 L210.05,264.83 L209.24,264.53 L208.43,264.25 L207.61,263.97 L206.79,263.70 L205.97,263.43 L205.14,263.18 L204.32,262.93 L203.49,262.69 L202.65,262.45 L201.82,262.23 L200.98,262.01 L200.15,261.80 L199.31,261.60 L198.46,261.40 L197.62,261.22 L196.77,261.04 L195.93,260.87 L195.08,260.70 L194.23,260.55 L193.37,260.40 L192.52,260.26 L191.67,260.13 L190.81,260.01 L189.95,259.89 L189.09,259.78 L188.23,259.68 L187.37,259.59 L186.51,259.51 L185.65,259.43 L184.79,259.36 L183.93,259.30 L183.06,259.25 L182.20,259.20 L181.33,259.17 L180.47,259.14 L179.60,259.12 L178.74,259.10 L177.87,259.10 L177.01,259.10 L176.14,259.11 L175.28,259.13 L174.41,259.16 L173.55,259.20 L172.68,259.24 L171.82,259.29 L170.96,259.35 L170.09,259.42 L169.23,259.49 L168.37,259.58 L167.51,259.67 L166.65,259.76 L165.79,259.87 L164.93,259.99 L164.08,260.11 L163.22,260.24 L162.37,260.38 L161.52,260.52 L160.66,260.68 L159.82,260.84 L158.97,261.01 L158.12,261.19 L157.28,261.37 L156.43,261.57 L155.59,261.77 L154.76,261.98 L153.92,262.19 L153.08,262.42 L152.25,262.65 L151.42,262.89 L150.59,263.13 L149.77,263.39 L148.95,263.65 L148.13,263.92 L147.31,264.20 L146.49,264.48 L145.68,264.78 L144.87,265.08 L144.07,265.38 L143.26,265.70 L142.46,266.02 L141.66,266.35 L140.87,266.69 L140.08,267.03 L139.29,267.38 L138.51,267.74 L137.73,268.11 L136.95,268.48 L136.18,268.86 L135.41,269.25 L134.64,269.64 L133.88,270.04 L133.12,270.45 L132.37,270.87 L131.62,271.29 L130.87,271.72 L130.13,272.16 L129.39,272.60 L128.66,273.05 L127.93,273.50 L127.21,273.97 L126.49,274.44 L125.77,274.91 L125.06,275.40 L124.36,275.89 L123.65,276.38 L122.96,276.89 L122.27,277.39 L121.58,277.91 L120.90,278.43 L120.22,278.96 L119.55,279.49 L118.88,280.03 L118.22,280.58 L117.57,281.13 L116.92,281.69 L116.27,282.26 L115.63,282.83 L115.00,283.40 L114.37,283.98 L113.75,284.57 L113.13,285.17 L112.52,285.76 L111.91,286.37 L111.31,286.98 L110.72,287.60 L110.13,288.22 L109.55,288.84 L108.97,289.48 L108.41,290.11 L107.84,290.76 L107.28,291.40 L106.73,292.06 L106.19,292.71 L105.65,293.38 L105.12,294.04 L104.59,294.72 L104.07,295.39 L103.56,296.08 L103.06,296.76 L102.56,297.46 L102.06,298.15 L101.58,298.85 L101.10,299.56 L100.63,300.27 L100.16,300.98 L99.70,301.70 L99.25,302.42 L98.81,303.15 L98.37,303.88 L97.94,304.61 L97.52,305.35 L97.10,306.09 L96.69,306.84 L96.29,307.59 L95.90,308.34 L95.51,309.10 L95.13,309.86 L94.76,310.62 L94.39,311.39 L94.03,312.16 L93.68,312.94 L93.34,313.71 L93.01,314.49 L92.68,315.28 L92.36,316.06 L92.04,316.85 L91.74,317.65 L91.44,318.44 L91.15,319.24 L90.87,320.04 L90.60,320.84 L90.33,321.65 L90.07,322.46 L89.82,323.27 L89.58,324.08 L89.34,324.89 L89.11,325.71 L88.89,326.53 L88.68,327.35 L88.48,328.17 L88.28,329.00 L88.10,329.82 L87.92,330.65 L87.74,331.48 L87.58,332.31 L87.42,333.14 L87.28,333.98 L87.14,334.81 L87.00,335.65 L86.88,336.49 L86.77,337.33 L86.66,338.17 L86.56,339.01 L86.47,339.85 L86.38,340.69 L86.31,341.54 L86.24,342.38 L86.18,343.22 L86.13,344.07 L86.09,344.92 L86.06,345.76 L86.03,346.61 L86.01,347.45 L86.00,348.30 L86.00,348.58 L86.00,348.60 L90.71,348.68 L95.42,348.76 L100.12,348.84 L104.83,348.91 L109.54,348.98 L114.25,349.05 L118.95,349.11 L123.66,349.17 L128.37,349.22 L133.08,349.27 L137.78,349.32 L142.49,349.37 L147.20,349.41 L151.91,349.45 L156.62,349.48 L161.32,349.52 L166.03,349.54 L170.74,349.57 L175.45,349.59 L180.15,349.61 L184.86,349.62 L189.57,349.63 L194.28,349.64 L198.98,349.65 L203.69,349.65 L208.40,349.64 L213.11,349.64 L217.81,349.63 L222.52,349.62 L227.23,349.60 L231.94,349.58 L236.65,349.56 L241.35,349.53 L246.06,349.50 L250.77,349.47 L255.48,349.43 L260.18,349.39 L264.89,349.35 L269.60,349.30 Z" fill="none" stroke="#4f9a46" stroke-width="0.8" opacity="0.8"/>
<g mask="url(#clc)">
<rect x="445" y="20.4" width="228.60000000000002" height="128.79999999999998" fill="#0a3cf0"/>
<polygon points="661.5,5.4 661.5,90.0 660.9,95.4 657.5,103.9 656.6,136.4 656.6,155.0 656.6,164.2 430.0,164.2 430.0,5.4" fill="#10a8f0"/>
<polygon points="646.0,5.4 646.0,64.0 645.6,70.7 644.0,80.8 643.0,91.0 643.0,139.8 643.0,155.0 643.0,164.2 430.0,164.2 430.0,5.4" fill="#10f8f0"/>
<polygon points="625.0,5.4 625.0,44.0 625.5,50.5 626.5,72.4 627.8,85.0 629.3,143.0 629.4,155.0 629.4,164.2 430.0,164.2 430.0,5.4" fill="#10f0c0"/>
<polygon points="605.4,5.4 605.4,30.0 605.4,38.0 605.4,64.0 607.3,85.0 609.7,105.6 611.4,143.0 611.5,155.0 611.5,164.2 430.0,164.2 430.0,5.4" fill="#10f060"/>
<polygon points="583.3,5.4 583.3,22.0 583.5,30.1 584.4,55.6 586.9,77.4 588.3,85.0 590.9,105.6 594.3,143.2 594.5,155.0 594.5,164.2 430.0,164.2 430.0,5.4" fill="#5af010"/>
<polygon points="561.5,5.4 561.5,18.0 561.7,26.2 562.6,47.2 565.1,72.4 567.0,80.0 567.6,91.0 572.1,105.6 578.9,143.2 580.0,155.0 580.0,164.2 430.0,164.2 430.0,5.4" fill="#c0f500"/>
<polygon points="536.5,5.4 536.5,20.0 537.0,28.4 539.0,47.2 541.5,72.4 544.0,80.0 546.5,91.0 549.1,96.8 555.5,114.0 560.0,123.6 563.5,143.2 564.0,155.0 564.0,164.2 430.0,164.2 430.0,5.4" fill="#f5f800"/>
<polygon points="512.0,5.4 512.0,28.0 512.1,36.8 513.0,55.6 515.5,72.4 517.2,80.0 519.7,91.0 522.2,96.8 530.6,110.2 540.7,123.6 545.7,132.0 549.1,142.1 550.0,155.0 550.0,164.2 430.0,164.2 430.0,5.4" fill="#ffa000"/>
<polygon points="485.5,5.4 485.5,40.0 485.3,53.9 484.4,72.4 485.3,85.0 484.4,105.2 482.8,116.9 480.3,123.6 475.2,130.4 461.8,132.9 450.0,133.7 440.0,133.7 440.0,164.2 430.0,164.2 430.0,5.4" fill="#fa3c0a"/>
<rect x="448" y="23.4" width="222.60000000000002" height="122.79999999999998" fill="url(#mulc)" style="mix-blend-mode:multiply"/>
<rect x="448" y="23.4" width="222.60000000000002" height="122.79999999999998" fill="url(#limbc)" style="mix-blend-mode:multiply"/>
<rect x="448" y="23.4" width="222.60000000000002" height="122.79999999999998" fill="url(#limb2c)" mask="url(#lmc)" style="mix-blend-mode:multiply"/>
<rect x="448" y="23.4" width="222.60000000000002" height="122.79999999999998" fill="url(#dodc)" style="mix-blend-mode:color-dodge"/>
<ellipse cx="595.3" cy="113.5" rx="24.8" ry="34.2" fill="url(#glg)"/>
<ellipse cx="595.3" cy="113.5" rx="9.3" ry="12.9" fill="url(#hlg)"/>
</g>
<g mask="url(#cld)">
<rect x="451.8" y="227.6" width="230.90000000000003" height="122.70000000000002" fill="#0a3cf0"/>
<polygon points="675.0,212.6 675.0,315.0 676.0,324.2 676.9,345.0 677.0,355.0 677.0,365.3 436.8,365.3 436.8,212.6" fill="#10a8f0"/>
<polygon points="655.0,212.6 655.0,275.0 657.7,279.2 661.4,290.2 664.4,300.0 666.5,310.0 668.3,325.0 669.2,345.0 669.3,355.0 669.3,365.3 436.8,365.3 436.8,212.6" fill="#10f8f0"/>
<polygon points="632.0,212.6 632.0,253.0 634.6,257.3 640.7,273.1 645.6,286.5 648.0,300.0 651.0,312.0 653.5,325.0 655.5,335.0 657.0,345.0 657.2,355.0 657.2,365.3 436.8,365.3 436.8,212.6" fill="#10f0c0"/>
<polygon points="619.0,212.6 619.0,241.0 621.9,246.7 625.5,254.0 628.0,260.0 630.0,265.0 634.5,279.6 637.5,291.0 640.5,305.0 642.8,318.0 644.3,330.0 645.3,345.0 645.5,355.0 645.5,365.3 436.8,365.3 436.8,212.6" fill="#10f060"/>
<polygon points="596.0,212.6 596.0,233.0 597.4,236.8 602.0,245.5 607.2,255.0 610.5,261.0 613.0,265.0 615.5,272.5 618.7,280.5 621.6,290.5 624.5,300.0 626.5,308.0 629.3,324.5 630.5,335.0 630.8,345.0 631.0,355.0 631.0,365.3 436.8,365.3 436.8,212.6" fill="#5af010"/>
<polygon points="573.0,212.6 573.0,230.0 574.0,233.3 580.0,242.5 586.0,252.0 590.5,260.0 594.0,267.0 597.0,274.0 600.0,282.0 603.2,291.0 607.0,299.0 610.4,308.0 614.4,324.6 616.5,335.0 617.9,345.0 618.0,355.0 618.0,365.3 436.8,365.3 436.8,212.6" fill="#c0f500"/>
<polygon points="548.0,212.6 548.0,228.0 549.9,234.5 555.9,241.7 562.7,253.6 570.0,266.0 576.4,279.5 582.5,291.0 591.8,308.0 596.5,321.0 600.5,333.0 602.6,345.0 603.0,355.0 603.0,365.3 436.8,365.3 436.8,212.6" fill="#f5f800"/>
<polygon points="520.0,212.6 520.0,238.0 522.6,243.4 532.0,253.6 538.8,265.6 545.6,279.2 552.5,290.5 559.5,301.0 566.0,310.0 571.5,318.5 575.5,325.0 583.8,334.4 588.9,345.0 590.0,355.0 590.0,365.3 436.8,365.3 436.8,212.6" fill="#ffa000"/>
<polygon points="493.0,212.6 493.0,252.0 496.1,259.6 504.7,269.0 509.8,284.4 512.3,292.0 514.9,303.7 514.9,315.6 511.5,327.6 506.4,334.4 492.7,337.8 475.6,341.2 458.5,343.0 445.0,344.0 445.0,365.3 436.8,365.3 436.8,212.6" fill="#fa3c0a"/>
<rect x="454.8" y="230.6" width="224.90000000000003" height="116.70000000000002" fill="url(#muld)" style="mix-blend-mode:multiply"/>
<rect x="454.8" y="230.6" width="224.90000000000003" height="116.70000000000002" fill="url(#limbd)" style="mix-blend-mode:multiply"/>
<rect x="454.8" y="230.6" width="224.90000000000003" height="116.70000000000002" fill="url(#limb2d)" mask="url(#lmd)" style="mix-blend-mode:multiply"/>
<rect x="454.8" y="230.6" width="224.90000000000003" height="116.70000000000002" fill="url(#dodd)" style="mix-blend-mode:color-dodge"/>
<ellipse cx="603.5" cy="323.5" rx="25.1" ry="34.5" fill="url(#glg)"/>
<ellipse cx="603.5" cy="323.5" rx="9.4" ry="13.1" fill="url(#hlg)"/>
</g>
<text x="2.5" y="6.9" class="lt" style="font-size:8.2px">Pressure</text>
<text x="2.5" y="14.3" class="lt" style="font-size:8.2px" textLength="33.4" lengthAdjust="spacing">Contour 2</text>
<rect x="2.9" y="20.20" width="9.7" height="13.91" fill="#fa3c0a"/>
<rect x="2.9" y="34.06" width="9.7" height="13.91" fill="#ffa000"/>
<rect x="2.9" y="47.92" width="9.7" height="13.91" fill="#f5f800"/>
<rect x="2.9" y="61.78" width="9.7" height="13.91" fill="#c0f500"/>
<rect x="2.9" y="75.64" width="9.7" height="13.91" fill="#5af010"/>
<rect x="2.9" y="89.50" width="9.7" height="13.91" fill="#10f060"/>
<rect x="2.9" y="103.36" width="9.7" height="13.91" fill="#10f0c0"/>
<rect x="2.9" y="117.22" width="9.7" height="13.91" fill="#10f8f0"/>
<rect x="2.9" y="131.08" width="9.7" height="13.91" fill="#10a8f0"/>
<rect x="2.9" y="144.94" width="9.7" height="13.91" fill="#0a3cf0"/>
<rect x="3.1" y="20.4" width="9.299999999999999" height="138.20" fill="none" stroke="#402020" stroke-opacity="0.45" stroke-width="0.6"/>
<line x1="12.6" y1="20.20" x2="14.1" y2="20.20" stroke="#666" stroke-width="0.6"/>
<text x="17.1" y="23.90" class="lt" style="font-size:8.2px">1.595e+03</text>
<line x1="12.6" y1="34.06" x2="14.1" y2="34.06" stroke="#666" stroke-width="0.6"/>
<text x="17.1" y="37.82" class="lt" style="font-size:8.2px">-7.631e+01</text>
<line x1="12.6" y1="47.92" x2="14.1" y2="47.92" stroke="#666" stroke-width="0.6"/>
<text x="17.1" y="51.74" class="lt" style="font-size:8.2px">-1.748e+03</text>
<line x1="12.6" y1="61.78" x2="14.1" y2="61.78" stroke="#666" stroke-width="0.6"/>
<text x="17.1" y="65.66" class="lt" style="font-size:8.2px">-3.419e+03</text>
<line x1="12.6" y1="75.64" x2="14.1" y2="75.64" stroke="#666" stroke-width="0.6"/>
<text x="17.1" y="79.58" class="lt" style="font-size:8.2px">-5.090e+03</text>
<line x1="12.6" y1="89.50" x2="14.1" y2="89.50" stroke="#666" stroke-width="0.6"/>
<text x="17.1" y="93.50" class="lt" style="font-size:8.2px">-6.761e+03</text>
<line x1="12.6" y1="103.36" x2="14.1" y2="103.36" stroke="#666" stroke-width="0.6"/>
<text x="17.1" y="107.42" class="lt" style="font-size:8.2px">-8.433e+03</text>
<line x1="12.6" y1="117.22" x2="14.1" y2="117.22" stroke="#666" stroke-width="0.6"/>
<text x="17.1" y="121.34" class="lt" style="font-size:8.2px">-1.010e+04</text>
<line x1="12.6" y1="131.08" x2="14.1" y2="131.08" stroke="#666" stroke-width="0.6"/>
<text x="17.1" y="135.26" class="lt" style="font-size:8.2px">-1.178e+04</text>
<line x1="12.6" y1="144.94" x2="14.1" y2="144.94" stroke="#666" stroke-width="0.6"/>
<text x="17.1" y="149.18" class="lt" style="font-size:8.2px">-1.345e+04</text>
<line x1="12.6" y1="158.80" x2="14.1" y2="158.80" stroke="#666" stroke-width="0.6"/>
<text x="17.1" y="163.10" class="lt" style="font-size:8.2px">-1.512e+04</text>
<text x="2.5" y="171.9" class="lt" style="font-size:8.2px">[Pa]</text>
<text x="4.7" y="223.8" class="lt" style="font-size:7.8px">Pressure</text>
<text x="4.7" y="230.6" class="lt" style="font-size:7.8px" textLength="32.0" lengthAdjust="spacing">Contour 1</text>
<rect x="5.1" y="236.00" width="9.0" height="13.10" fill="#fa3c0a"/>
<rect x="5.1" y="249.05" width="9.0" height="13.10" fill="#ffa000"/>
<rect x="5.1" y="262.10" width="9.0" height="13.10" fill="#f5f800"/>
<rect x="5.1" y="275.15" width="9.0" height="13.10" fill="#c0f500"/>
<rect x="5.1" y="288.20" width="9.0" height="13.10" fill="#5af010"/>
<rect x="5.1" y="301.25" width="9.0" height="13.10" fill="#10f060"/>
<rect x="5.1" y="314.30" width="9.0" height="13.10" fill="#10f0c0"/>
<rect x="5.1" y="327.35" width="9.0" height="13.10" fill="#10f8f0"/>
<rect x="5.1" y="340.40" width="9.0" height="13.10" fill="#10a8f0"/>
<rect x="5.1" y="353.45" width="9.0" height="13.10" fill="#0a3cf0"/>
<rect x="5.3" y="236.2" width="8.6" height="130.10" fill="none" stroke="#402020" stroke-opacity="0.45" stroke-width="0.6"/>
<line x1="14.1" y1="236.00" x2="15.6" y2="236.00" stroke="#666" stroke-width="0.6"/>
<text x="18.8" y="239.60" class="lt" style="font-size:7.8px">1.695e+03</text>
<line x1="14.1" y1="249.05" x2="15.6" y2="249.05" stroke="#666" stroke-width="0.6"/>
<text x="18.8" y="252.69" class="lt" style="font-size:7.8px">3.693e+01</text>
<line x1="14.1" y1="262.10" x2="15.6" y2="262.10" stroke="#666" stroke-width="0.6"/>
<text x="18.8" y="265.78" class="lt" style="font-size:7.8px">-1.621e+03</text>
<line x1="14.1" y1="275.15" x2="15.6" y2="275.15" stroke="#666" stroke-width="0.6"/>
<text x="18.8" y="278.87" class="lt" style="font-size:7.8px">-3.279e+03</text>
<line x1="14.1" y1="288.20" x2="15.6" y2="288.20" stroke="#666" stroke-width="0.6"/>
<text x="18.8" y="291.96" class="lt" style="font-size:7.8px">-4.936e+03</text>
<line x1="14.1" y1="301.25" x2="15.6" y2="301.25" stroke="#666" stroke-width="0.6"/>
<text x="18.8" y="305.05" class="lt" style="font-size:7.8px">-6.594e+03</text>
<line x1="14.1" y1="314.30" x2="15.6" y2="314.30" stroke="#666" stroke-width="0.6"/>
<text x="18.8" y="318.14" class="lt" style="font-size:7.8px">-8.252e+03</text>
<line x1="14.1" y1="327.35" x2="15.6" y2="327.35" stroke="#666" stroke-width="0.6"/>
<text x="18.8" y="331.23" class="lt" style="font-size:7.8px">-9.910e+03</text>
<line x1="14.1" y1="340.40" x2="15.6" y2="340.40" stroke="#666" stroke-width="0.6"/>
<text x="18.8" y="344.32" class="lt" style="font-size:7.8px">-1.157e+04</text>
<line x1="14.1" y1="353.45" x2="15.6" y2="353.45" stroke="#666" stroke-width="0.6"/>
<text x="18.8" y="357.41" class="lt" style="font-size:7.8px">-1.323e+04</text>
<line x1="14.1" y1="366.50" x2="15.6" y2="366.50" stroke="#666" stroke-width="0.6"/>
<text x="18.8" y="370.50" class="lt" style="font-size:7.8px">-1.488e+04</text>
<text x="4.7" y="378.9" class="lt" style="font-size:7.8px">[Pa]</text>
<text x="371.8" y="15.6" class="lt" style="font-size:7.8px">Pressure</text>
<text x="371.8" y="22.9" class="lt" style="font-size:7.8px" textLength="31.6" lengthAdjust="spacing">Contour 1</text>
<rect x="372.0" y="28.00" width="9.3" height="13.01" fill="#fa3c0a"/>
<rect x="372.0" y="40.96" width="9.3" height="13.01" fill="#ffa000"/>
<rect x="372.0" y="53.92" width="9.3" height="13.01" fill="#f5f800"/>
<rect x="372.0" y="66.88" width="9.3" height="13.01" fill="#c0f500"/>
<rect x="372.0" y="79.84" width="9.3" height="13.01" fill="#5af010"/>
<rect x="372.0" y="92.80" width="9.3" height="13.01" fill="#10f060"/>
<rect x="372.0" y="105.76" width="9.3" height="13.01" fill="#10f0c0"/>
<rect x="372.0" y="118.72" width="9.3" height="13.01" fill="#10f8f0"/>
<rect x="372.0" y="131.68" width="9.3" height="13.01" fill="#10a8f0"/>
<rect x="372.0" y="144.64" width="9.3" height="13.01" fill="#0a3cf0"/>
<rect x="372.2" y="28.2" width="8.9" height="129.20" fill="none" stroke="#402020" stroke-opacity="0.45" stroke-width="0.6"/>
<line x1="381.3" y1="28.00" x2="382.8" y2="28.00" stroke="#666" stroke-width="0.6"/>
<text x="385.3" y="31.60" class="lt" style="font-size:7.8px">1.976e+03</text>
<line x1="381.3" y1="40.96" x2="382.8" y2="40.96" stroke="#666" stroke-width="0.6"/>
<text x="385.3" y="44.51" class="lt" style="font-size:7.8px">2.861e+02</text>
<line x1="381.3" y1="53.92" x2="382.8" y2="53.92" stroke="#666" stroke-width="0.6"/>
<text x="385.3" y="57.42" class="lt" style="font-size:7.8px">-1.403e+03</text>
<line x1="381.3" y1="66.88" x2="382.8" y2="66.88" stroke="#666" stroke-width="0.6"/>
<text x="385.3" y="70.33" class="lt" style="font-size:7.8px">-3.093e+03</text>
<line x1="381.3" y1="79.84" x2="382.8" y2="79.84" stroke="#666" stroke-width="0.6"/>
<text x="385.3" y="83.24" class="lt" style="font-size:7.8px">-4.782e+03</text>
<line x1="381.3" y1="92.80" x2="382.8" y2="92.80" stroke="#666" stroke-width="0.6"/>
<text x="385.3" y="96.15" class="lt" style="font-size:7.8px">-6.472e+03</text>
<line x1="381.3" y1="105.76" x2="382.8" y2="105.76" stroke="#666" stroke-width="0.6"/>
<text x="385.3" y="109.06" class="lt" style="font-size:7.8px">-8.161e+03</text>
<line x1="381.3" y1="118.72" x2="382.8" y2="118.72" stroke="#666" stroke-width="0.6"/>
<text x="385.3" y="121.97" class="lt" style="font-size:7.8px">-9.851e+03</text>
<line x1="381.3" y1="131.68" x2="382.8" y2="131.68" stroke="#666" stroke-width="0.6"/>
<text x="385.3" y="134.88" class="lt" style="font-size:7.8px">-1.154e+04</text>
<line x1="381.3" y1="144.64" x2="382.8" y2="144.64" stroke="#666" stroke-width="0.6"/>
<text x="385.3" y="147.79" class="lt" style="font-size:7.8px">-1.323e+04</text>
<line x1="381.3" y1="157.60" x2="382.8" y2="157.60" stroke="#666" stroke-width="0.6"/>
<text x="385.3" y="160.70" class="lt" style="font-size:7.8px">-1.492e+04</text>
<text x="371.8" y="169.5" class="lt" style="font-size:7.8px">[Pa]</text>
<text x="370.2" y="213.8" class="lt" style="font-size:7.9px">Pressure</text>
<text x="370.2" y="220.6" class="lt" style="font-size:7.9px" textLength="32.5" lengthAdjust="spacing">Contour 1</text>
<rect x="370.0" y="226.90" width="9.8" height="13.53" fill="#fa3c0a"/>
<rect x="370.0" y="240.38" width="9.8" height="13.53" fill="#ffa000"/>
<rect x="370.0" y="253.86" width="9.8" height="13.53" fill="#f5f800"/>
<rect x="370.0" y="267.34" width="9.8" height="13.53" fill="#c0f500"/>
<rect x="370.0" y="280.82" width="9.8" height="13.53" fill="#5af010"/>
<rect x="370.0" y="294.30" width="9.8" height="13.53" fill="#10f060"/>
<rect x="370.0" y="307.78" width="9.8" height="13.53" fill="#10f0c0"/>
<rect x="370.0" y="321.26" width="9.8" height="13.53" fill="#10f8f0"/>
<rect x="370.0" y="334.74" width="9.8" height="13.53" fill="#10a8f0"/>
<rect x="370.0" y="348.22" width="9.8" height="13.53" fill="#0a3cf0"/>
<rect x="370.2" y="227.1" width="9.4" height="134.40" fill="none" stroke="#402020" stroke-opacity="0.45" stroke-width="0.6"/>
<line x1="379.8" y1="226.90" x2="381.3" y2="226.90" stroke="#666" stroke-width="0.6"/>
<text x="384.5" y="230.30" class="lt" style="font-size:7.9px">1.980e+03</text>
<line x1="379.8" y1="240.38" x2="381.3" y2="240.38" stroke="#666" stroke-width="0.6"/>
<text x="384.5" y="243.84" class="lt" style="font-size:7.9px">2.873e+02</text>
<line x1="379.8" y1="253.86" x2="381.3" y2="253.86" stroke="#666" stroke-width="0.6"/>
<text x="384.5" y="257.38" class="lt" style="font-size:7.9px">-1.406e+03</text>
<line x1="379.8" y1="267.34" x2="381.3" y2="267.34" stroke="#666" stroke-width="0.6"/>
<text x="384.5" y="270.92" class="lt" style="font-size:7.9px">-3.099e+03</text>
<line x1="379.8" y1="280.82" x2="381.3" y2="280.82" stroke="#666" stroke-width="0.6"/>
<text x="384.5" y="284.46" class="lt" style="font-size:7.9px">-4.792e+03</text>
<line x1="379.8" y1="294.30" x2="381.3" y2="294.30" stroke="#666" stroke-width="0.6"/>
<text x="384.5" y="298.00" class="lt" style="font-size:7.9px">-6.485e+03</text>
<line x1="379.8" y1="307.78" x2="381.3" y2="307.78" stroke="#666" stroke-width="0.6"/>
<text x="384.5" y="311.54" class="lt" style="font-size:7.9px">-8.178e+03</text>
<line x1="379.8" y1="321.26" x2="381.3" y2="321.26" stroke="#666" stroke-width="0.6"/>
<text x="384.5" y="325.08" class="lt" style="font-size:7.9px">-9.872e+03</text>
<line x1="379.8" y1="334.74" x2="381.3" y2="334.74" stroke="#666" stroke-width="0.6"/>
<text x="384.5" y="338.62" class="lt" style="font-size:7.9px">-1.156e+04</text>
<line x1="379.8" y1="348.22" x2="381.3" y2="348.22" stroke="#666" stroke-width="0.6"/>
<text x="384.5" y="352.16" class="lt" style="font-size:7.9px">-1.326e+04</text>
<line x1="379.8" y1="361.70" x2="381.3" y2="361.70" stroke="#666" stroke-width="0.6"/>
<text x="384.5" y="365.70" class="lt" style="font-size:7.9px">-1.495e+04</text>
<text x="370.2" y="374.5" class="lt" style="font-size:7.9px">[Pa]</text>
<rect x="93.90" y="170.7" width="39.38" height="3.8" fill="#000"/>
<rect x="133.28" y="170.95" width="39.38" height="3.3" fill="#fff" stroke="#666" stroke-width="0.5"/>
<rect x="172.65" y="170.7" width="39.38" height="3.8" fill="#000"/>
<rect x="212.03" y="170.95" width="39.38" height="3.3" fill="#fff" stroke="#666" stroke-width="0.5"/>
<text x="94" y="169.50" class="st" style="font-size:5.4px" text-anchor="middle">0</text>
<text x="172.6" y="169.50" class="st" style="font-size:5.4px" text-anchor="middle">0.01</text>
<text x="251.0" y="169.50" class="st" style="font-size:5.4px" text-anchor="end">0.02</text>
<text x="253.8" y="169.50" class="st" style="font-size:5.4px" text-anchor="start">(m)</text>
<text x="133" y="179.90" class="st" style="font-size:5.4px" text-anchor="middle">0.005</text>
<text x="212" y="179.90" class="st" style="font-size:5.4px" text-anchor="middle">0.015</text>
<rect x="126.70" y="376.4" width="19.40" height="3.7" fill="#000"/>
<rect x="146.10" y="376.65" width="19.40" height="3.2" fill="#fff" stroke="#666" stroke-width="0.5"/>
<rect x="165.50" y="376.4" width="19.40" height="3.7" fill="#000"/>
<rect x="184.90" y="376.65" width="19.40" height="3.2" fill="#fff" stroke="#666" stroke-width="0.5"/>
<text x="126.7" y="375.30" class="st" style="font-size:4.6px" text-anchor="middle">0</text>
<text x="165.7" y="375.30" class="st" style="font-size:4.6px" text-anchor="middle">0.005</text>
<text x="204.1" y="375.30" class="st" style="font-size:4.6px" text-anchor="end">0.01</text>
<text x="206.5" y="375.30" class="st" style="font-size:4.6px" text-anchor="start">(m)</text>
<text x="146.3" y="384.70" class="st" style="font-size:4.6px" text-anchor="middle">0.0025</text>
<text x="185.2" y="384.70" class="st" style="font-size:4.6px" text-anchor="middle">0.0075</text>
<rect x="515.00" y="164.0" width="19.57" height="3.7" fill="#000"/>
<rect x="534.58" y="164.25" width="19.57" height="3.2" fill="#fff" stroke="#666" stroke-width="0.5"/>
<rect x="554.15" y="164.0" width="19.57" height="3.7" fill="#000"/>
<rect x="573.72" y="164.25" width="19.57" height="3.2" fill="#fff" stroke="#666" stroke-width="0.5"/>
<text x="515" y="162.60" class="st" style="font-size:4.6px" text-anchor="middle">0</text>
<text x="554" y="162.60" class="st" style="font-size:4.6px" text-anchor="middle">0.005</text>
<text x="593.1" y="162.60" class="st" style="font-size:4.6px" text-anchor="end">0.01</text>
<text x="595.7" y="162.60" class="st" style="font-size:4.6px" text-anchor="start">(m)</text>
<text x="534.4" y="172.50" class="st" style="font-size:4.6px" text-anchor="middle">0.0025</text>
<text x="573.3" y="172.50" class="st" style="font-size:4.6px" text-anchor="middle">0.0075</text>
<rect x="520.90" y="372.3" width="22.18" height="3.9" fill="#000"/>
<rect x="543.08" y="372.55" width="22.18" height="3.4" fill="#fff" stroke="#666" stroke-width="0.5"/>
<rect x="565.25" y="372.3" width="22.18" height="3.9" fill="#000"/>
<rect x="587.42" y="372.55" width="22.18" height="3.4" fill="#fff" stroke="#666" stroke-width="0.5"/>
<text x="520.9" y="370.60" class="st" style="font-size:5.0px" text-anchor="middle">0</text>
<text x="565.3" y="370.60" class="st" style="font-size:5.0px" text-anchor="middle">0.005</text>
<text x="609.4" y="370.60" class="st" style="font-size:5.0px" text-anchor="end">0.01</text>
<text x="612.8" y="370.60" class="st" style="font-size:5.0px" text-anchor="start">(m)</text>
<text x="543" y="381.00" class="st" style="font-size:5.0px" text-anchor="middle">0.0025</text>
<text x="587.1" y="381.00" class="st" style="font-size:5.0px" text-anchor="middle">0.0075</text>
<line x1="325.7" y1="144.3" x2="308.90" y2="144.3" stroke="#c83434" stroke-width="1.10"/>
<polygon points="304.70,144.3 309.95,142.62 309.95,145.98" fill="#b82020"/>
<line x1="325.7" y1="144.3" x2="325.7" y2="160.50" stroke="#3c9c3c" stroke-width="1.10"/>
<polygon points="325.7,164.70 324.02,159.45 327.38,159.45" fill="#2a8a2a"/>
<circle cx="325.7" cy="144.3" r="1.89" fill="#14149a"/>
<circle cx="315.0" cy="155.3" r="1.99" fill="#28c8d8"/>
<text x="302.28" y="143.25" class="ax" style="font-size:5.78px" fill="#e0a0a0">X</text>
<text x="327.27" y="142.73" class="ax" style="font-size:5.78px" fill="#a0a0e0">Z</text>
<text x="324.44" y="169.95" class="ax" style="font-size:5.78px" fill="#a8d0a8">Y</text>
<line x1="272.8" y1="362.7" x2="260.72" y2="362.7" stroke="#c83434" stroke-width="0.79"/>
<polygon points="257.70,362.7 261.47,361.49 261.47,363.91" fill="#b82020"/>
<line x1="272.8" y1="362.7" x2="272.8" y2="374.58" stroke="#3c9c3c" stroke-width="0.79"/>
<polygon points="272.8,377.60 271.59,373.82 274.01,373.82" fill="#2a8a2a"/>
<circle cx="272.8" cy="362.7" r="1.36" fill="#14149a"/>
<circle cx="265.0" cy="370.5" r="1.43" fill="#28c8d8"/>
<text x="255.96" y="361.94" class="ax" style="font-size:4.15px" fill="#e0a0a0">X</text>
<text x="273.93" y="361.57" class="ax" style="font-size:4.15px" fill="#a0a0e0">Z</text>
<text x="271.89" y="381.37" class="ax" style="font-size:4.15px" fill="#a8d0a8">Y</text>
<line x1="673.6" y1="151.1" x2="661.12" y2="151.1" stroke="#c83434" stroke-width="0.82"/>
<polygon points="658.00,151.1 661.90,149.85 661.90,152.35" fill="#b82020"/>
<line x1="673.6" y1="151.1" x2="673.6" y2="163.98" stroke="#3c9c3c" stroke-width="0.82"/>
<polygon points="673.6,167.10 672.35,163.20 674.85,163.20" fill="#2a8a2a"/>
<circle cx="673.6" cy="151.1" r="1.40" fill="#14149a"/>
<circle cx="665.1" cy="159.79999999999998" r="1.48" fill="#28c8d8"/>
<text x="656.21" y="150.32" class="ax" style="font-size:4.29px" fill="#e0a0a0">X</text>
<text x="674.77" y="149.93" class="ax" style="font-size:4.29px" fill="#a0a0e0">Z</text>
<text x="672.66" y="171.00" class="ax" style="font-size:4.29px" fill="#a8d0a8">Y</text>
<line x1="662.1" y1="363.1" x2="646.58" y2="363.1" stroke="#c83434" stroke-width="1.02"/>
<polygon points="642.70,363.1 647.55,361.55 647.55,364.65" fill="#b82020"/>
<line x1="662.1" y1="363.1" x2="662.1" y2="378.22" stroke="#3c9c3c" stroke-width="1.02"/>
<polygon points="662.1,382.10 660.55,377.25 663.65,377.25" fill="#2a8a2a"/>
<circle cx="662.1" cy="363.1" r="1.75" fill="#14149a"/>
<circle cx="652.6" cy="373.1" r="1.84" fill="#28c8d8"/>
<text x="640.47" y="362.13" class="ax" style="font-size:5.33px" fill="#e0a0a0">X</text>
<text x="663.56" y="361.65" class="ax" style="font-size:5.33px" fill="#a0a0e0">Z</text>
<text x="660.94" y="386.95" class="ax" style="font-size:5.33px" fill="#a8d0a8">Y</text>
<text x="154" y="200.1" class="pl" text-anchor="middle" style="font-size:15.6px">(a)</text>
<text x="154.05" y="406.6" class="pl" text-anchor="middle" style="font-size:15.6px">(b)</text>
<text x="526.35" y="194.5" class="pl" text-anchor="middle" style="font-size:16px">(c)</text>
<text x="531.9" y="406.5" class="pl" text-anchor="middle" style="font-size:16px">(d)</text>
</svg>
</body></html>
